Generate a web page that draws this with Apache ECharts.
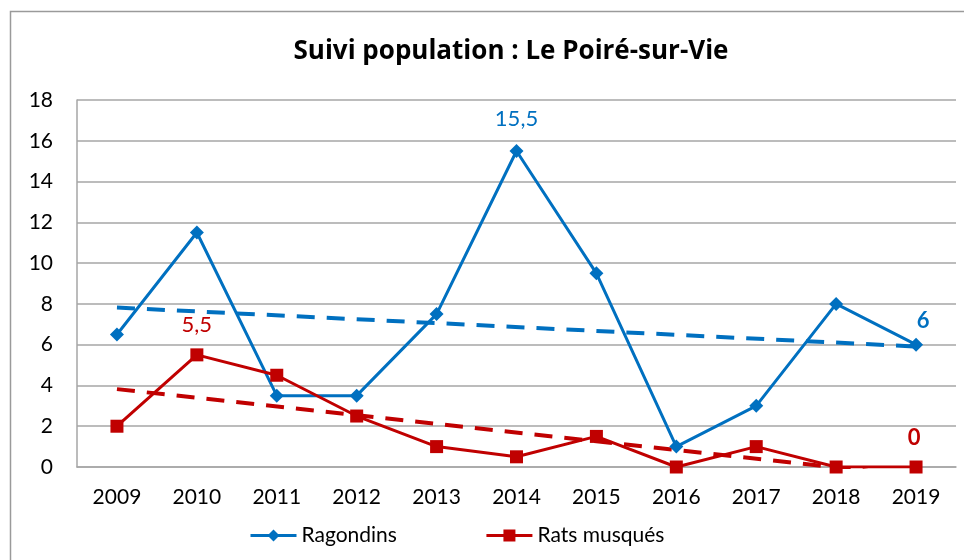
<!DOCTYPE html>
<html>
<head>
<meta charset="utf-8">
<script src="https://cdn.jsdelivr.net/npm/echarts@6/dist/echarts.min.js"></script>
<style>html,body{margin:0;padding:0;background:#fff}#c{width:964px;height:560px}</style>
</head>
<body>
<div id="c"></div>
<script>
const years = ['2009','2010','2011','2012','2013','2014','2015','2016','2017','2018','2019'];
const ragondins = [6.5, 11.5, 3.5, 3.5, 7.5, 15.5, 9.5, 1, 3, 8, 6];
const ratsMusques = [2, 5.5, 4.5, 2.5, 1, 0.5, 1.5, 0, 1, 0, 0];
// linear trend lines, endpoint values (2009, 2019)
const trendYears = ['2009', '2019'];
const trendRagondins = [7.82, 5.91];
const trendRats = [3.82, -0.45];
const yTicks = [0, 2, 4, 6, 8, 10, 12, 14, 16, 18];

const BLUE = '#0070C0', RED = '#C00000';
const FONT = 'Lato';
const fmt = v => String(v).replace('.', ',');

function labelled(values, idxCfg) {
  return values.map((v, i) => idxCfg[i] ? { value: v, label: Object.assign({ show: true, formatter: p => fmt(p.value) }, idxCfg[i]) } : v);
}

const ragData = labelled(ragondins, {
  5: { color: BLUE, fontSize: 22, position: 'top', distance: 14, fontFamily: FONT },
  10: { color: BLUE, fontSize: 22, fontWeight: 'bold', position: 'top', distance: 6, offset: [7, 0], fontFamily: FONT }
});
const ratData = labelled(ratsMusques, {
  1: { color: RED, fontSize: 22, position: 'top', distance: 12, fontFamily: FONT },
  10: { color: RED, fontSize: 22, fontWeight: 'bold', position: 'top', distance: 12, offset: [-2, 0], fontFamily: FONT }
});

const chart = echarts.init(document.getElementById('c'), null, { renderer: 'canvas' });
chart.setOption({
  animation: false,
  backgroundColor: '#fff',
  textStyle: { fontFamily: FONT },
  title: {
    text: 'Suivi population : Le Poiré-sur-Vie',
    left: 506, top: 34, textAlign: 'center',
    textStyle: { fontFamily: 'Open Sans', fontWeight: 'bold', fontSize: 26, color: '#000' }
  },
  graphic: [{
    type: 'rect', silent: true,
    shape: { x: 10.5, y: 11.5, width: 1000, height: 1000 },
    style: { fill: 'none', stroke: '#9a9a9a', lineWidth: 1.5 }
  }],
  legend: {
    data: ['Ragondins', 'Rats musqués'],
    left: 249, top: 525, padding: 0,
    itemWidth: 46, itemHeight: 15, itemGap: 88,
    lineStyle: { width: 3 },
    textStyle: { fontFamily: FONT, fontSize: 21, color: '#000', padding: [0, 0, 0, 0] }
  },
  grid: { left: 77, right: 8, top: 100, bottom: 93, containLabel: false },
  xAxis: {
    type: 'category', data: years, boundaryGap: true,
    axisLine: { show: true, lineStyle: { color: '#a6a6a6', width: 1.5 } },
    axisTick: { show: false },
    axisLabel: { fontFamily: FONT, fontSize: 21, color: '#000', margin: 20 }
  },
  yAxis: {
    type: 'value', min: 0, max: 18, interval: 2,
    axisLine: { show: true, lineStyle: { color: '#a6a6a6', width: 1.5 } },
    axisTick: { show: false },
    splitLine: { lineStyle: { color: '#a6a6a6', width: 1.5 } },
    axisLabel: { fontFamily: FONT, fontSize: 21, color: '#000', margin: 24,
      formatter: v => yTicks.includes(v) ? String(v) : '' }
  },
  series: [
    {
      name: 'Ragondins', type: 'line', data: ragData,
      symbol: 'diamond', symbolSize: 14,
      lineStyle: { color: BLUE, width: 3 }, itemStyle: { color: BLUE },
      z: 4
    },
    {
      name: 'Rats musqués', type: 'line', data: ratData,
      symbol: 'rect', symbolSize: 13,
      lineStyle: { color: RED, width: 3 }, itemStyle: { color: RED },
      z: 4
    },
    {
      name: 'Tendance Ragondins', type: 'line', clip: true,
      data: trendYears.map((y, i) => [y, trendRagondins[i]]),
      symbol: 'none',
      lineStyle: { color: BLUE, width: 4, type: [18, 12] },
      z: 3
    },
    {
      name: 'Tendance Rats', type: 'line', clip: true,
      data: trendYears.map((y, i) => [y, trendRats[i]]),
      symbol: 'none',
      lineStyle: { color: RED, width: 4, type: [18, 12] },
      z: 3
    }
  ]
});
</script>
</body>
</html>
